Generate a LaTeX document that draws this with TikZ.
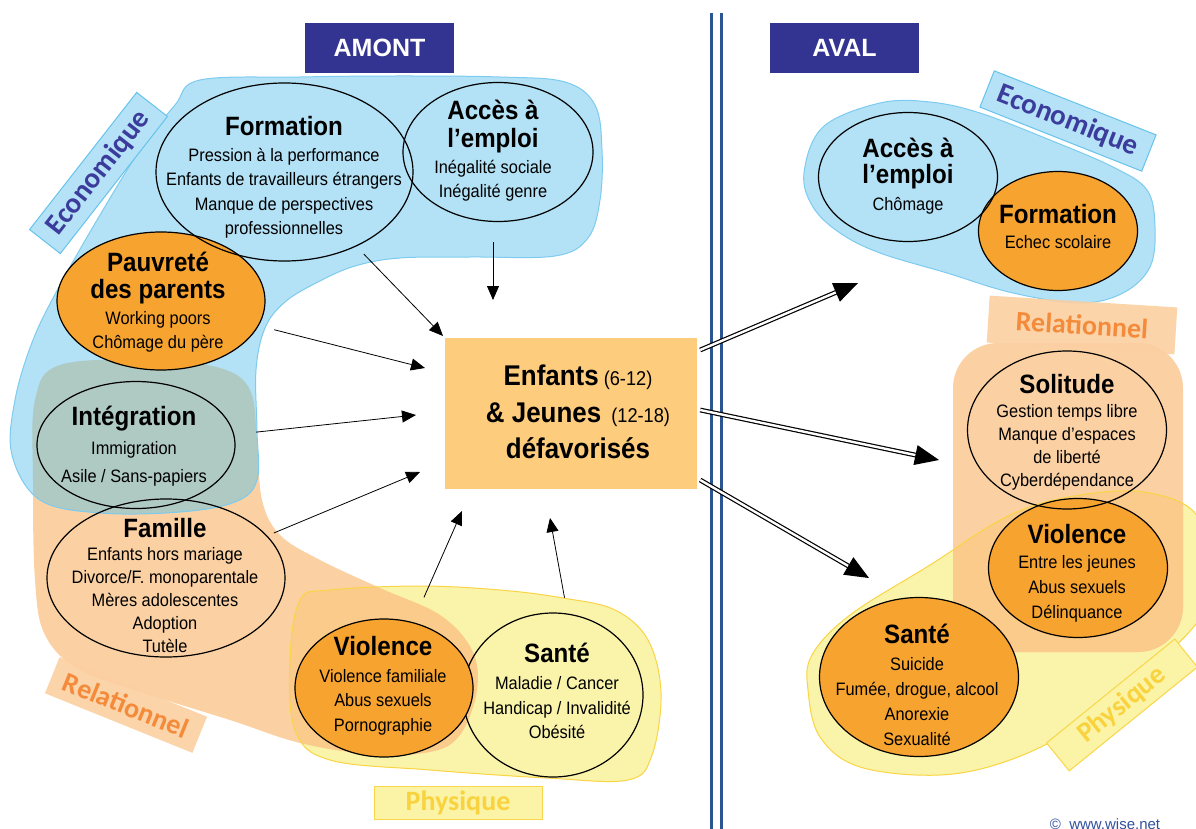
\documentclass[tikz,border=0pt]{standalone}
\usepackage{fontspec}
\setmainfont{Liberation Sans}[FakeStretch=0.91]
\newfontfamily\hdfont{Liberation Sans}
\newfontfamily\lblfont{Carlito}
\usetikzlibrary{shapes.geometric,arrows.meta,calc}
\definecolor{blueF}{HTML}{B3E1F6}
\definecolor{blueS}{HTML}{7DCBEF}
\definecolor{orgLight}{HTML}{FBD1A3}
\definecolor{olapBO}{HTML}{AFC9C3}
\definecolor{yelF}{HTML}{FAF4AB}
\definecolor{yelS}{HTML}{F9D444}
\definecolor{olapOY}{HTML}{FACB8A}
\definecolor{orgE}{HTML}{F7A32F}
\definecolor{boxF}{HTML}{FECC7D}
\definecolor{navy}{HTML}{333391}
\definecolor{vline}{HTML}{2B5590}
\definecolor{lbF}{HTML}{B5E2F6}
\definecolor{lbS}{HTML}{66C3EC}
\definecolor{lbT}{HTML}{3C3C9C}
\definecolor{loF}{HTML}{FBCFA1}
\definecolor{loT}{HTML}{F48B3B}
\definecolor{lyF}{HTML}{FBF3A5}
\definecolor{lyS}{HTML}{F9D64A}
\definecolor{lyT}{HTML}{F9D33F}
\definecolor{cpy}{HTML}{3050A0}
\newcommand\ttl{\fontsize{26.5}{30}\selectfont\bfseries}
\newcommand\bigt{\fontsize{28.5}{36.5}\selectfont\bfseries}
\newcommand\bdy[1]{\fontsize{18}{#1}\selectfont}
\def\blueL{plot[smooth cycle, tension=0.6] coordinates {(200,80) (300,77) (400,76) (500,77) (565,82) (595,105) (602,150) (600,200) (588,238) (555,256) (470,257) (400,258) (355,266) (318,282) (285,302) (265,328) (256,370) (257,430) (257,480) (235,502) (180,512) (100,513) (40,500) (12,455) (15,400) (33,340) (60,285) (100,215) (140,150) (175,105)}}
\def\orangeL{plot[smooth cycle, tension=0.6] coordinates {(60,365) (150,360) (220,368) (250,390) (257,440) (262,500) (280,535) (320,560) (380,588) (440,615) (472,650) (477,690) (460,735) (430,752) (370,754) (300,743) (230,720) (150,695) (80,670) (45,635) (35,580) (33,480) (35,400)}}
\def\yellowL{plot[smooth cycle, tension=0.6] coordinates {(300,600) (330,590) (420,586) (500,590) (563,598) (615,610) (648,640) (661,693) (652,755) (628,780) (547,778) (430,770) (330,760) (295,730) (290,660)}}
\def\blueR{plot[smooth cycle, tension=0.6] coordinates {(804,173) (823,127) (880,103) (930,102) (980,113) (1050,140) (1113,167) (1147,190) (1155,227) (1150,267) (1123,293) (1080,303) (1013,293) (947,273) (880,253) (840,233) (813,207)}}
\def\yellowR{plot[smooth cycle, tension=0.6] coordinates {(812,655) (850,615) (930,565) (1010,515) (1080,495) (1150,493) (1200,520) (1210,600) (1150,670) (1080,725) (1010,760) (940,775) (860,767) (820,737) (808,690)}}
\def\orangeR{(953,343) [rounded corners=45pt] rectangle (1183,652)}
\tikzset{
  ell/.style={ellipse, draw=black, line width=1.2pt, inner sep=0pt},
  orng/.style={fill=orgE},
  txt/.style={align=center, inner sep=0pt, font=\bdy{24.5}},
  arr/.style={-{Triangle[length=14pt,width=12pt]}, line width=0.8pt},
  dshaft/.style={line width=1.2pt, double distance=2.4pt, shorten >=20pt},
  dtip/.style={-{Triangle[length=24pt,width=20pt]}, line width=1pt},
  hdr/.style={fill=navy, text=white, font=\hdfont\bfseries\fontsize{25}{30}\selectfont, minimum width=149pt, minimum height=50pt, inner sep=0pt},
  lblB/.style={fill=lbF, draw=lbS, line width=1pt, text=lbT, font=\lblfont\bfseries\fontsize{29}{32}\selectfont, inner sep=0pt},
  lblO/.style={fill=loF, fill opacity=0.9, text opacity=1, text=loT, font=\lblfont\bfseries\fontsize{28}{32}\selectfont, inner sep=0pt},
  lblY/.style={fill=lyF, draw=lyS, line width=1pt, text=lyT, font=\lblfont\bfseries\fontsize{28}{32}\selectfont, inner sep=0pt},
}
\begin{document}
\begin{tikzpicture}[x=1pt,y=-1pt]
\useasboundingbox (0,0) rectangle (1196,829);
% ---------- left blobs
\fill[orgLight] \orangeL;
\fill[blueF] \blueL;
\begin{scope}\clip \blueL; \fill[olapBO] \orangeL; \end{scope}
\fill[yelF] \yellowL;
\begin{scope}\clip \yellowL; \fill[olapOY] \orangeL; \end{scope}
\draw[blueS, line width=1pt] \blueL;
\draw[yelS, line width=1pt] \yellowL;
% ---------- right blobs
\fill[blueF] \blueR;
\draw[blueS, line width=1pt] \blueR;
\fill[yelF] \yellowR;
\fill[orgLight] \orangeR;
\begin{scope}\clip \yellowR; \fill[olapOY] \orangeR; \end{scope}
\draw[yelS, line width=1pt] \yellowR;
% ---------- separator
\draw[vline, line width=3pt] (711,13) -- (711,829);
\draw[vline, line width=3pt] (721,13) -- (721,829);
% ---------- headers
\node[hdr] (amont) at (379.5,48) {AMONT};
\node[hdr] (aval) at (844.5,48) {AVAL};
% ---------- category labels
\node[lblB, rotate=52, minimum width=174pt, minimum height=39pt] (ecoL) at (98.5,173) {Economique};
\node[lblO, rotate=-22, minimum width=159pt, minimum height=39pt] (relL) at (126,705) {Relationnel};
\node[lblY, minimum width=168pt, minimum height=33pt] (physB) at (458,803) {Physique};
\node[lblB, rotate=-21.6, minimum width=174pt, minimum height=39pt] (ecoR) at (1068,121) {Economique};
\node[lblO, rotate=-3.6, minimum width=188pt, minimum height=47pt] (relR) at (1082,325) {Relationnel};
\node[lblY, rotate=39, minimum width=165pt, minimum height=36pt] (physR) at (1122,705) {Physique};
% ---------- left ellipses
\node[ell, orng, minimum width=208pt, minimum height=138pt] (pauvrete) at (161,301) {};
\node[ell, minimum width=257pt, minimum height=178pt] (formation) at (284.5,172) {};
\node[ell, minimum width=190pt, minimum height=139pt] (accesL) at (498,152) {};
\node[ell, minimum width=198pt, minimum height=127pt] (integration) at (136,445) {};
\node[ell, minimum width=238pt, minimum height=158pt] (famille) at (166,578) {};
\node[ell, minimum width=180pt, minimum height=164pt] (santeL) at (553,695) {};
\node[ell, orng, minimum width=178pt, minimum height=138pt] (violenceL) at (384,688) {};
% ---------- right ellipses
\node[ell, orng, minimum width=159pt, minimum height=119pt] (formationR) at (1058,231) {};
\node[ell, minimum width=179pt, minimum height=129pt] (accesR) at (908,177) {};
\node[ell, orng, minimum width=179pt, minimum height=139pt] (violenceR) at (1078,568) {};
\node[ell, minimum width=199pt, minimum height=158pt] (solitude) at (1067,430) {};
\node[ell, orng, minimum width=199pt, minimum height=159pt] (santeR) at (919,677) {};
% ---------- texts
\node[txt] (formationT) at (284,177.5) {{\ttl Formation}\\[1.5pt]Pression à la performance\\Enfants de travailleurs étrangers\\Manque de perspectives\\professionnelles};
\node[txt] (accesLT) at (493,150.8) {{\ttl Accès à}\\[3.5pt]{\ttl l’emploi}\\[1.5pt]Inégalité sociale\\Inégalité genre};
\node[txt] (pauvreteT) at (158,302) {{\ttl Pauvreté}\\[2.5pt]{\ttl des parents}\\[1.5pt]Working poors\\Chômage du père};
\node[txt, font=\bdy{28.5}] (integrationT) at (134,446.5) {{\ttl Intégration}\\Immigration\\Asile / Sans-papiers};
\node[txt, font=\bdy{23}] (familleT) at (165,585.5) {{\ttl Famille}\\Enfants hors mariage\\Divorce/F. monoparentale\\Mères adolescentes\\Adoption\\Tutèle};
\node[txt] (violenceLT) at (383,685.5) {{\ttl Violence}\\[2.5pt]Violence familiale\\Abus sexuels\\Pornographie};
\node[txt] (santeLT) at (557,691) {{\ttl Santé}\\[2.5pt]Maladie / Cancer\\Handicap / Invalidité\\Obésité};
\node[txt] (accesRT) at (908,176.5) {{\ttl Accès à}\\[1.5pt]{\ttl l’emploi}\\[2.5pt]Chômage};
\node[txt] (formationRT) at (1058,226.5) {{\ttl Formation}\\[0.5pt]Echec scolaire};
\node[txt, font=\bdy{23}] (solitudeT) at (1067,432) {{\ttl Solitude}\\[1pt]Gestion temps libre\\Manque d’espaces\\de liberté\\Cyberdépendance};
\node[txt, font=\bdy{25}] (violenceRT) at (1077,573.5) {{\ttl Violence}\\Entre les jeunes\\Abus sexuels\\Délinquance};
\node[txt, font=\bdy{25}] (santeRT) at (917,684.5) {{\ttl Santé}\\[2pt]Suicide\\Fumée, drogue, alcool\\Anorexie\\Sexualité};
% ---------- centre
\node[fill=boxF, minimum width=252pt, minimum height=151pt, inner sep=0pt] (box) at (571,413.5) {};
\node[align=center, inner sep=0pt, font=\fontsize{20}{36.5}\selectfont] (boxT) at (578,412) {{\bigt Enfants} (6-12)\\{\bigt \& Jeunes}\ \ (12-18)\\{\bigt défavorisés}};
% ---------- thin arrows
\coordinate (e1) at (443,336);
\coordinate (e2) at (493,300);
\coordinate (e3) at (425,368);
\coordinate (e4) at (416,415);
\coordinate (e5) at (420,472);
\coordinate (e6) at (462,511);
\coordinate (e7) at (550,518);
\draw[arr, shorten <=10.7pt] (formation) -- (e1);
\draw[arr, shorten <=20pt] (accesL.south -| e2) -- (e2);
\draw[arr, shorten <=16pt] (pauvrete) -- (e3);
\draw[arr, shorten <=22pt] (integration) -- (e4);
\draw[arr, shorten <=7pt] (famille) -- (e5);
\draw[arr, shorten <=27pt] (violenceL) -- (e6);
\draw[arr, shorten <=16pt] (santeL.80) -- (e7);
% ---------- double arrows
\coordinate (s1) at ($(box.east)+(3,-63.5)$);
\coordinate (s2) at ($(box.east)+(3,-3.5)$);
\coordinate (s3) at ($(box.east)+(3,66.5)$);
\coordinate (d1) at (858,283);
\coordinate (d2) at (939,460);
\coordinate (d3) at (869,578);
\draw[dshaft] (s1) -- (d1);
\draw[dshaft] (s2) -- (d2);
\draw[dshaft] (s3) -- (d3);
\draw[dtip] ($(d1)!24pt!(s1)$) -- (d1);
\draw[dtip] ($(d2)!24pt!(s2)$) -- (d2);
\draw[dtip] ($(d3)!24pt!(s3)$) -- (d3);
% ---------- copyright
\node[anchor=base, inner sep=0pt, text=cpy, font=\hdfont\fontsize{15}{18}\selectfont] (copy) at (1105,829) {©\ \ www.wise.net};
\end{tikzpicture}
\end{document}
